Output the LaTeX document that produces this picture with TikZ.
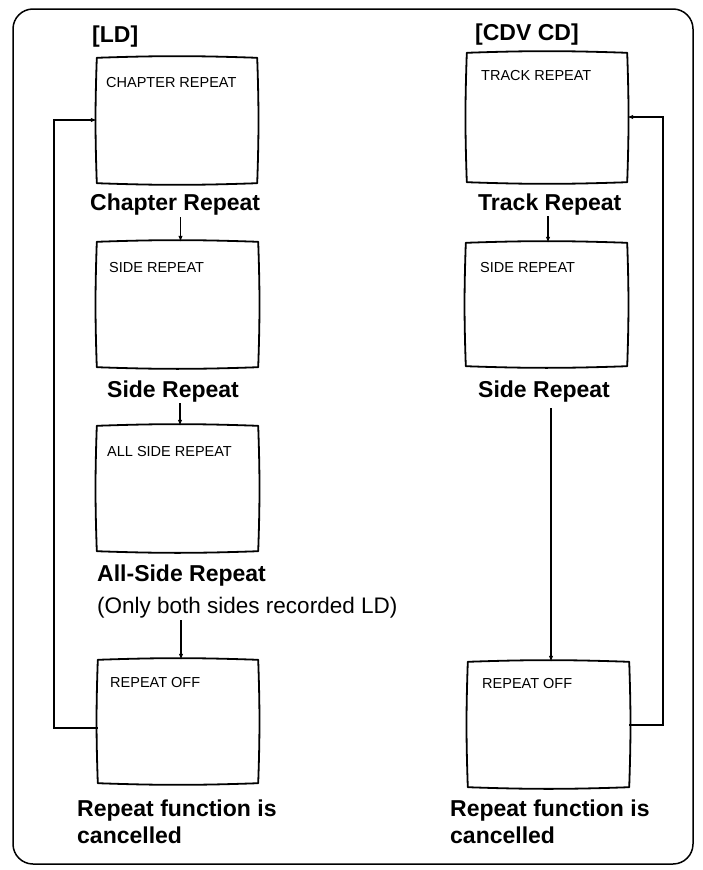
\documentclass[tikz,border=0pt]{standalone}
\usepackage{fontspec}
\setmainfont{Liberation Sans}
\usetikzlibrary{arrows.meta}
\begin{document}
\begin{tikzpicture}[x=1pt,y=-1pt,
  tv/.style={rectangle,inner sep=0pt,draw=none},
  tvline/.style={line width=1.8pt,line join=round},
  lbl/.style={anchor=base west,inner sep=0pt,font=\bfseries\fontsize{23}{27}\selectfont},
  lblml/.style={anchor=north west,inner sep=0pt,align=left,font=\bfseries\fontsize{23}{27}\selectfont},
  scr/.style={anchor=base west,inner sep=0pt,font=\fontsize{14.5}{17}\selectfont},
  note/.style={anchor=base west,inner sep=0pt,font=\fontsize{22.5}{27}\selectfont},
  arr/.style={line width=1.1pt,-{Latex[length=6pt,width=4.5pt]}},
  frame/.style={line width=1.5pt,rounded corners=20pt}]
\useasboundingbox (0,0) rectangle (702,870);
\fill[white] (0,0) rectangle (702,870);
\draw[frame] (13,9) rectangle (693,864);

% headings
\node[lbl] (hld) at (92,42) {[LD]};
\node[lbl] (hcd) at (475,40) {[CDV CD]};

% LD column screens
\node[tv,minimum width=160pt,minimum height=125pt] (ld1) at (177,120.5) {};
\node[tv,minimum width=161pt,minimum height=125pt] (ld2) at (177.5,304.5) {};
\node[tv,minimum width=161pt,minimum height=125pt] (ld3) at (177.5,488.5) {};
\node[tv,minimum width=160pt,minimum height=123pt] (ld4) at (178,721.5) {};
% CDV CD column screens
\node[tv,minimum width=160pt,minimum height=129pt] (cd1) at (547,117.5) {};
\node[tv,minimum width=161pt,minimum height=123pt] (cd2) at (546.5,304.5) {};
\node[tv,minimum width=161pt,minimum height=125pt] (cd4) at (548.5,724.5) {};

\foreach \n in {ld1,ld2,ld3,ld4,cd1,cd2,cd4}{
  \draw[tvline] (\n.north west) to[bend left=2] (\n.north east)
    to[bend left=2] (\n.south east) to[bend left=2] (\n.south west)
    to[bend left=2] cycle;
}

% screen texts
\node[scr] (t1) at (106,87) {CHAPTER REPEAT};
\node[scr] (t2) at (109,272) {SIDE REPEAT};
\node[scr] (t3) at (107,456) {ALL SIDE REPEAT};
\node[scr] (t4) at (110,687) {REPEAT OFF};
\node[scr] (t5) at (481,80) {TRACK REPEAT};
\node[scr] (t6) at (480,272) {SIDE REPEAT};
\node[scr] (t7) at (482,688) {REPEAT OFF};

% captions
\node[lbl] (c1) at (90,210) {Chapter Repeat};
\node[lbl] (c2) at (107,397) {Side Repeat};
\node[lbl] (c3) at (97,581) {All-Side Repeat};
\node[note] (c3b) at (97,613) {(Only both sides recorded LD)};
\node[lblml] (c4) at (77,799.5) {Repeat function is\\cancelled};
\node[lbl] (d1) at (478,210) {Track Repeat};
\node[lbl] (d2) at (478,397) {Side Repeat};
\node[lblml] (d4) at (450,799.5) {Repeat function is\\cancelled};

% arrows LD
\draw[arr] ([xshift=3pt]ld2.north |- 0,217) -- ([xshift=3pt]ld2.north);
\draw[arr] ([xshift=2.5pt]ld3.north |- 0,403) -- ([xshift=2.5pt]ld3.north);
\draw[arr] ([xshift=3pt]ld4.north |- 0,620) -- ([xshift=3pt]ld4.north);
% arrows CDV
\draw[arr] ([xshift=1.5pt]cd2.north |- 0,216) -- ([xshift=1.5pt]cd2.north);
\draw[arr] ([xshift=2.5pt]cd4.north |- 0,408) -- ([xshift=2.5pt]cd4.north);

% loops
\coordinate (lda) at (54,728);
\coordinate (ldb) at (54,120);
\draw[arr] (ld4.west |- lda) -- (lda) -- (ldb) -- (ld1.west |- ldb);
\coordinate (cda) at (663,725);
\coordinate (cdb) at (663,117);
\draw[arr] (cd4.east |- cda) -- (cda) -- (cdb) -- (cd1.east |- cdb);
\end{tikzpicture}
\end{document}
